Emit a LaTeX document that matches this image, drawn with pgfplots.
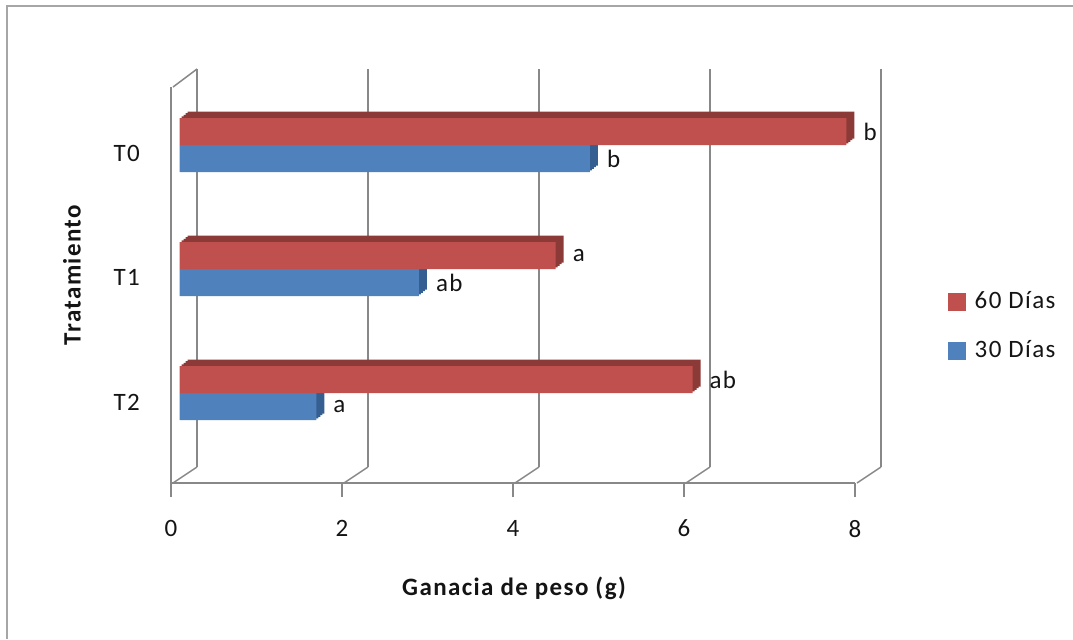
\documentclass[border=0pt]{standalone}
\usepackage{fontspec}
\setmainfont{Carlito}[LetterSpace=5.5]
\usepackage{pgfplots}
\pgfplotsset{compat=1.18}

\definecolor{barred}{HTML}{C0504D}
\definecolor{barreddk}{HTML}{8C3A38}
\definecolor{barblue}{HTML}{4F81BD}
\definecolor{barbluedk}{HTML}{355F91}
\definecolor{wallgray}{HTML}{888888}
\definecolor{framegray}{HTML}{A6A6A6}
\definecolor{txt}{HTML}{141414}

\newcommand{\lblfont}{\fontsize{12.5}{15}\selectfont}

\begin{document}
\begin{tikzpicture}[x=0.5pt,y=0.5pt,font=\lblfont]
\path[use as bounding box] (0,0) rectangle (1073,639);
\draw[framegray, line width=1pt] (7,0) -- (7,633) -- (1073,633);

% back wall gridlines, floor and left wall edges
\foreach \k in {0,...,4}{
  \draw[wallgray, line width=0.75pt] (197+171*\k,172) -- (197+171*\k,570);
  \draw[wallgray, line width=0.75pt] (173+171*\k,156) -- (197+171*\k,172);
}
\draw[wallgray, line width=0.75pt] (173,552) -- (197,570);

% front axis: ticks and category labels
\begin{axis}[at={(200,156)}, anchor=south west, scale only axis,
  width=342pt, height=198pt, xmin=0, xmax=8, ymin=0, ymax=396,
  axis x line*=bottom, axis y line*=left,
  axis line style={wallgray, line width=0.75pt, -},
  xtick={0,2,...,8}, xtick align=outside,
  x tick style={wallgray, line width=0.75pt}, major tick length=7pt,
  ytick={81,206,330}, yticklabels={T2,T1,T0},
  y tick style={draw=none},
  /pgf/number format/assume math mode=true,
  xticklabel style={text=txt, yshift=-8pt},
  yticklabel style={text=txt, xshift=-12pt},
  tick label style={font=\lblfont}]
\end{axis}

% bars
\begin{axis}[at={(210,162)}, anchor=south west, scale only axis,
  width=342pt, height=198pt, xmin=0, xmax=8, ymin=0, ymax=396,
  axis lines=none, clip=false,
  legend style={at={(1.114,0.381)}, anchor=west, draw=none, fill=none,
    row sep=10.5pt, font=\lblfont, text=txt,
    nodes={inner xsep=4.5pt}},
  legend cell align=left,
  legend image code/.code={\fill[#1] (0pt,-4.25pt) rectangle (8.5pt,4.25pt);}]

\addlegendimage{barred}\addlegendentry{60 Días}
\addlegendimage{barblue}\addlegendentry{30 Días}

% depth of the bars (30 Días)
\pgfplotsinvokeforeach{1,0.75,0.5,0.25}{
  \addplot[xbar, fill=barbluedk, draw=none, bar width=27, bar shift=0,
    xshift=#1*4pt, yshift=#1*3.25pt, forget plot]
    coordinates {(4.8,318.5) (2.8,194.5) (1.6,70.5)};
}
% depth of the bars (60 Días)
\pgfplotsinvokeforeach{1,0.75,0.5,0.25}{
  \addplot[xbar, fill=barreddk, draw=none, bar width=27, bar shift=0,
    xshift=#1*4pt, yshift=#1*3.25pt, forget plot]
    coordinates {(7.8,345.5) (4.4,221.5) (6.0,97.5)};
}

% front faces with the letters of significance
\addplot[xbar, fill=barblue, draw=none, bar width=27, bar shift=0,
  forget plot, point meta=explicit symbolic, nodes near coords,
  nodes near coords style={anchor=west, xshift=5pt, text=txt, font=\lblfont}]
  coordinates {(4.8,318.5)[b] (2.8,194.5)[ab] (1.6,70.5)[a]};
\addplot[xbar, fill=barred, draw=none, bar width=27, bar shift=0,
  forget plot, point meta=explicit symbolic, nodes near coords,
  nodes near coords style={anchor=west, xshift=5pt, text=txt, font=\lblfont}]
  coordinates {(7.8,345.5)[b] (4.4,221.5)[a] (6.0,97.5)[ab]};
\end{axis}

\node[anchor=base, text=txt, font=\lblfont\bfseries] at (514,44) {Ganacia de peso (g)};
\node[rotate=90, text=txt, font=\lblfont\bfseries] at (72,364) {Tratamiento};
\end{tikzpicture}
\end{document}
